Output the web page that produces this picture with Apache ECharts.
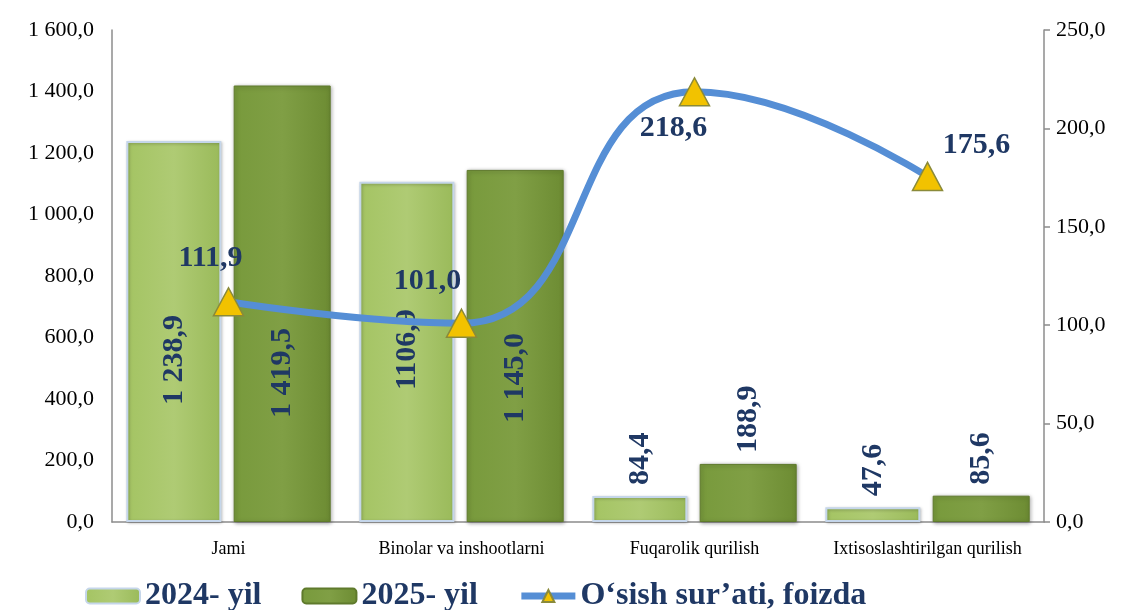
<!DOCTYPE html>
<html lang="uz">
<head>
  <meta charset="UTF-8">
  <title>Qurilish ishlari</title>
  <script src="https://cdn.jsdelivr.net/npm/echarts@6/dist/echarts.min.js"></script>
  <style>
    html, body { margin: 0; padding: 0; background: #fff; }
    #chart { width: 1131px; height: 610px; }
  </style>
</head>
<body>
  <div id="chart"></div>
  <script>
    const categories = ['Jami', 'Binolar va inshootlarni', 'Fuqarolik qurilish', 'Ixtisoslashtirilgan qurilish'];
    const values2024 = [1238.9, 1106.9, 84.4, 47.6];
    const values2025 = [1419.5, 1145.0, 188.9, 85.6];
    const growthRate = [111.9, 101.0, 218.6, 175.6];
    const leftTicks = [0, 1600, 200];
    const rightTicks = [0, 250, 50];

    const navy = '#1f3864';
    const serif = '"Liberation Serif", "Times New Roman", serif';

    // 1 238,9 kabi yozish
    function fmt(v, sep) {
      const parts = v.toFixed(1).split('.');
      const whole = parts[0].replace(/\B(?=(\d{3})+(?!\d))/g, sep);
      return whole + ',' + parts[1];
    }

    // yorliq joylashuvi (katta ustunlarda ichkarida, kichiklarida tepada)
    const dist2024 = [117, 132, 11, 11];
    const dist2025 = [104, 99, 11, 11];

    function barItems(values, dists, sepFn) {
      return values.map((v, i) => ({
        value: v,
        label: {
          show: true,
          rotate: 90,
          position: v > 500 ? 'insideBottom' : 'top',
          distance: dists[i],
          align: 'left',
          verticalAlign: 'middle',
          formatter: p => fmt(p.value, sepFn(i)),
          color: navy,
          fontFamily: serif,
          fontWeight: 'bold',
          fontSize: 30
        }
      }));
    }

    const bar24 = barItems(values2024, dist2024, i => (i === 1 ? '' : ' '));
    const bar25 = barItems(values2025, dist2025, () => ' ');

    const lineLabelOffsets = [[-18, -44], [-34, -42], [-21, 36], [49, -31]];
    const lineData = growthRate.map((v, i) => ({
      value: v,
      label: { offset: lineLabelOffsets[i] }
    }));

    const chart = echarts.init(document.getElementById('chart'));

    const option = {
      animation: false,
      grid: { left: 112, right: 87, top: 30, bottom: 88 },
      legend: {
        orient: 'horizontal',
        top: 575,
        left: 80,
        itemGap: 40,
        itemWidth: 54,
        itemHeight: 15,
        textStyle: { color: navy, fontFamily: serif, fontWeight: 'bold', fontSize: 32 },
        data: [
          '2024- yil',
          '2025- yil',
          { name: 'O‘sish sur’ati, foizda', lineStyle: { width: 7 } }
        ]
      },
      xAxis: {
        type: 'category',
        data: categories,
        axisLine: { lineStyle: { color: '#8c8c8c', width: 1.5 } },
        axisTick: { show: false },
        axisLabel: { interval: 0, color: '#000', fontFamily: serif, fontSize: 18, margin: 18 }
      },
      yAxis: [
        {
          type: 'value',
          min: leftTicks[0], max: leftTicks[1], interval: leftTicks[2],
          axisLine: { show: true, lineStyle: { color: '#8c8c8c', width: 1.5 } },
          axisTick: { show: false },
          splitLine: { show: false },
          axisLabel: { color: '#000', fontFamily: serif, fontSize: 22, margin: 18, formatter: v => fmt(v, ' ') }
        },
        {
          type: 'value',
          min: rightTicks[0], max: rightTicks[1], interval: rightTicks[2],
          axisLine: { show: true, lineStyle: { color: '#8c8c8c', width: 1.5 } },
          axisTick: { show: true, length: 6, lineStyle: { color: '#8c8c8c', width: 1.5 } },
          splitLine: { show: false },
          axisLabel: { color: '#000', fontFamily: serif, fontSize: 22, margin: 12, formatter: v => fmt(v, ' ') }
        }
      ],
      series: [
        {
          name: '2024- yil',
          type: 'bar',
          data: bar24,
          barWidth: 95,
          barGap: '13%',
          itemStyle: {
            color: new echarts.graphic.LinearGradient(0, 0, 1, 0, [
              { offset: 0, color: '#a4c463' },
              { offset: 0.5, color: '#afcb74' },
              { offset: 1, color: '#9aba5a' }
            ]),
            borderColor: '#c5d6ea',
            borderWidth: 2,
            shadowColor: 'rgba(0,0,0,0.25)',
            shadowBlur: 3,
            shadowOffsetX: 1,
            shadowOffsetY: 1
          }
        },
        {
          name: '2025- yil',
          type: 'bar',
          data: bar25,
          barWidth: 97,
          itemStyle: {
            color: new echarts.graphic.LinearGradient(0, 0, 1, 0, [
              { offset: 0, color: '#789a3c' },
              { offset: 0.5, color: '#809f45' },
              { offset: 1, color: '#6d8c33' }
            ]),
            borderColor: '#5f7a2c',
            borderWidth: 1,
            shadowColor: 'rgba(0,0,0,0.35)',
            shadowBlur: 4,
            shadowOffsetX: 1,
            shadowOffsetY: 1
          }
        },
        {
          name: 'O‘sish sur’ati, foizda',
          type: 'line',
          yAxisIndex: 1,
          data: lineData,
          smooth: 0.5,
          symbol: 'triangle',
          symbolSize: [30, 28],
          lineStyle: { color: '#558ed5', width: 7 },
          itemStyle: { color: '#f2c200', borderColor: '#8a8a3a', borderWidth: 1.5 },
          label: {
            show: true,
            position: 'inside',
            formatter: p => fmt(p.value, ' '),
            color: navy,
            fontFamily: serif,
            fontWeight: 'bold',
            fontSize: 30
          },
          z: 5
        }
      ]
    };

    chart.setOption(option);
  </script>
</body>
</html>
